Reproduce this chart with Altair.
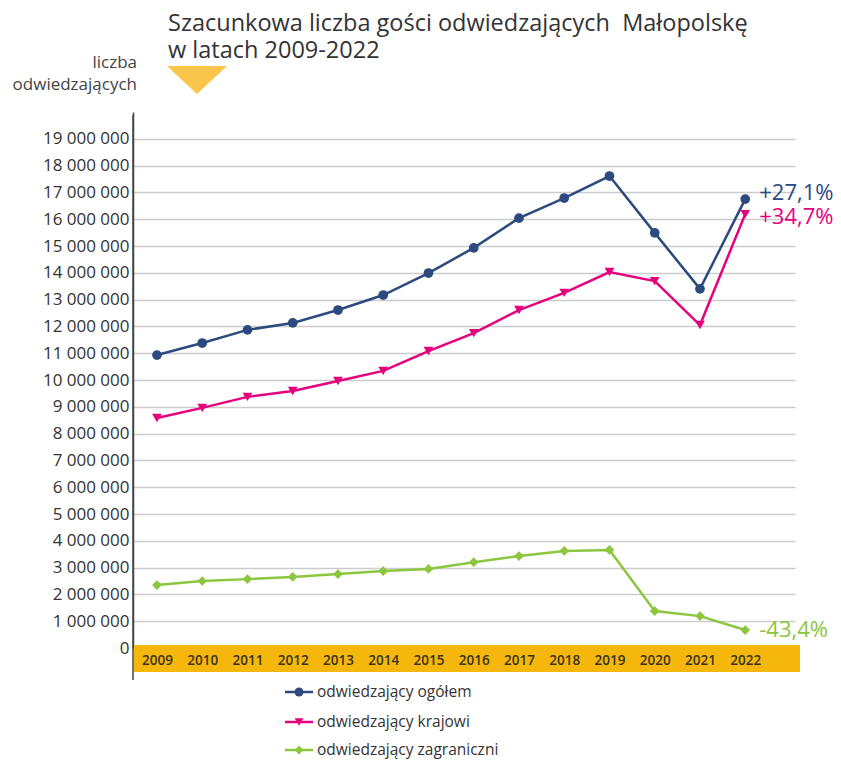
import altair as alt
import pandas as pd

# ---- data (millions of visitors) ----
years = list(range(2009, 2023))
ogolem = [10.93, 11.38, 11.87, 12.13, 12.61, 13.17, 13.99, 14.93, 16.04, 16.79, 17.61, 15.49, 13.40, 16.75]
krajowi = [8.58, 8.96, 9.37, 9.59, 9.96, 10.34, 11.08, 11.75, 12.61, 13.25, 14.03, 13.69, 12.05, 16.19]
zagraniczni = [2.35, 2.50, 2.57, 2.65, 2.76, 2.87, 2.95, 3.20, 3.43, 3.62, 3.66, 1.38, 1.19, 0.67]
series = ["odwiedzający ogółem", "odwiedzający krajowi", "odwiedzający zagraniczni"]
changes = ["+27,1%", "+34,7%", "-43,4%"]
colors = ["#2C4A7E", "#E5007E", "#8CC63F"]
shapes = ["circle", "triangle-down", "diamond"]
y_ticks = [i * 1_000_000 for i in range(0, 20)]
title_lines = ["Szacunkowa liczba gości odwiedzających\u00a0 Małopolskę", "w latach 2009-2022"]
y_title_lines = ["liczba", "odwiedzających"]

FONT = "Open Sans"
W, H = 662, 536

rows = []
for name, vals in zip(series, [ogolem, krajowi, zagraniczni]):
    for yr, v in zip(years, vals):
        rows.append({"year": yr, "value": v * 1_000_000, "series": name})
df = pd.DataFrame(rows)

color_scale = alt.Scale(domain=series, range=colors)
shape_scale = alt.Scale(domain=series, range=shapes)

x_axis = alt.Axis(
    values=years, format="d", title=None, grid=False, ticks=False, domain=False,
    labelBaseline="middle", labelPadding=12, labelFlush=False, zindex=2,
    labelOverlap=False,
    labelFont=FONT, labelFontSize=13.5, labelFontWeight=600, labelColor="#3A3320",
)
y_axis = alt.Axis(
    values=y_ticks, tickCount=20, title=None, ticks=False, labelOverlap=False,
    labelExpr="replace(format(datum.value, ','), regexp(',', 'g'), ' ')",
    labelFont=FONT, labelFontSize=17, labelColor="#333333", labelPadding=4,
    domainColor="#444444", domainWidth=1.5,
    grid=True, gridColor="#CCCCCC", gridWidth=1.5,
    gridOpacity={"condition": {"test": "datum.value === 0", "value": 0}, "value": 1},
)
x_scale = alt.Scale(domain=[2008.47, 2023.1], nice=False, zero=False)
y_scale = alt.Scale(domain=[0, 20_000_000], nice=False)


def xq():
    return alt.X("year:Q", scale=x_scale, axis=x_axis)


def yq():
    return alt.Y("value:Q", scale=y_scale, axis=y_axis)


base = alt.Chart(df)
one_row = pd.DataFrame({"k": [1]})

# yellow band under the year labels (decoration)
band = alt.Chart(one_row).mark_rect(color="#F6B70C").encode(
    x=alt.value(1), x2=alt.value(W + 5), y=alt.value(H - 3), y2=alt.value(H + 24)
)
# y-axis line continuing through the band (decoration)
axis_ext = alt.Chart(one_row).mark_rule(color="#444444", strokeWidth=1.5).encode(
    x=alt.value(0), y=alt.value(3), y2=alt.value(H + 32)
)

lines = base.mark_line(strokeWidth=2.5).encode(
    x=xq(), y=yq(),
    color=alt.Color("series:N", scale=color_scale, legend=None),
)
points = base.mark_point(filled=True, size=95, opacity=1).encode(
    x=xq(), y=yq(),
    color=alt.Color("series:N", scale=color_scale, legend=None),
    shape=alt.Shape("series:N", scale=shape_scale, legend=None),
)

layers = [band, axis_ext, lines, points]

# change labels next to the 2022 points
dys = [-6, 3, 0]
for name, vals, ch, col, dy in zip(series, [ogolem, krajowi, zagraniczni], changes, colors, dys):
    d = pd.DataFrame({"year": [years[-1]], "value": [vals[-1] * 1_000_000], "label": [ch]})
    layers.append(
        alt.Chart(d).mark_text(align="left", baseline="middle", dx=14, dy=dy,
                               font=FONT, fontSize=22, color=col)
        .encode(x=xq(), y=yq(), text="label:N")
    )

# title and y-title texts
for txt, yy in zip(title_lines, [-88, -61]):
    layers.append(
        alt.Chart(pd.DataFrame({"t": [txt]})).mark_text(
            align="left", baseline="middle", font=FONT, fontSize=23.5, color="#333333"
        ).encode(x=alt.value(35), y=alt.value(yy), text="t:N")
    )
for txt, yy in zip(y_title_lines, [-49, -27]):
    layers.append(
        alt.Chart(pd.DataFrame({"t": [txt]})).mark_text(
            align="right", baseline="middle", font=FONT, fontSize=17, color="#444444"
        ).encode(x=alt.value(4), y=alt.value(yy), text="t:N")
    )

# yellow triangle marker
layers.append(
    alt.Chart(one_row).mark_point(
        shape="M-1,-0.47L1,-0.47L0,0.47Z", size=3600, filled=True,
        color="#F9C54A", opacity=1, strokeWidth=0,
    ).encode(x=alt.value(64), y=alt.value(-32))
)

# manual legend (one row per series)
leg_rows_y = [580, 610, 638]
for name, col, shp, ly in zip(series, colors, shapes, leg_rows_y):
    one = pd.DataFrame({"series": [name]})
    layers.append(
        alt.Chart(one).mark_rule(strokeWidth=2.5, color=col).encode(
            x=alt.value(152), x2=alt.value(180), y=alt.value(ly)
        )
    )
    layers.append(
        alt.Chart(one).mark_point(filled=True, size=80, opacity=1, color=col, shape=shp).encode(
            x=alt.value(166), y=alt.value(ly)
        )
    )
    layers.append(
        alt.Chart(one).mark_text(align="left", baseline="middle", font=FONT, fontSize=15.5,
                                 color="#333333").encode(
            x=alt.value(184), y=alt.value(ly), text="series:N"
        )
    )

chart = (
    alt.layer(*layers)
    .properties(
        width=W, height=H,
        autosize=alt.AutoSizeParams(type="none"),
        padding={"left": 125, "top": 104, "right": 38, "bottom": 113},
        background="white",
    )
    .configure_view(stroke=None)
)

chart.save("out.html", embed_options={"renderer": "svg", "actions": False})
